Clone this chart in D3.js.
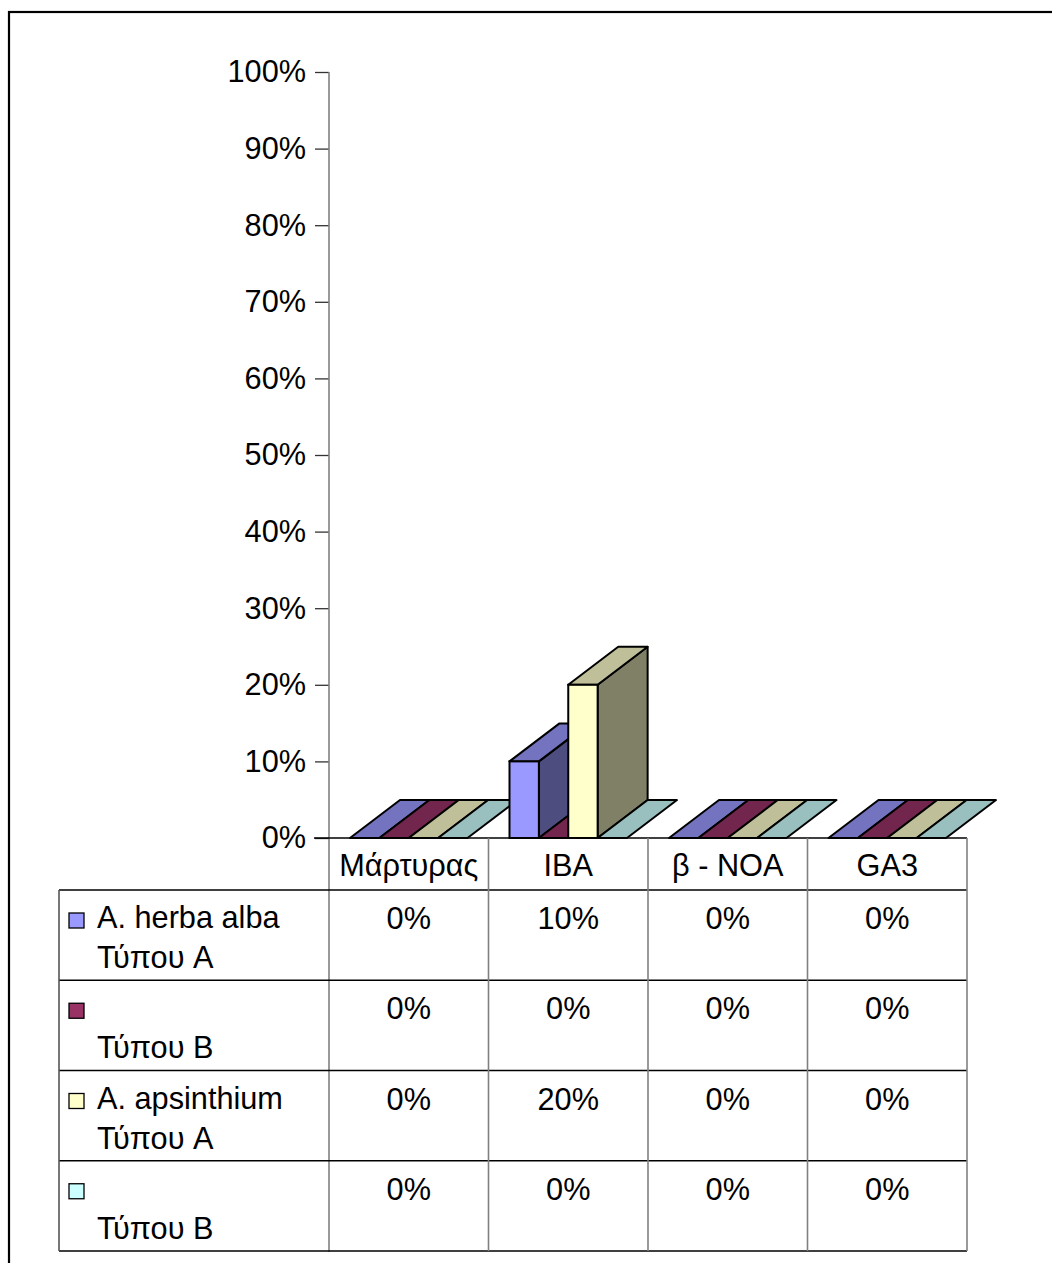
<!DOCTYPE html>
<html>
<head>
<meta charset="utf-8">
<script src="https://cdn.jsdelivr.net/npm/d3@7"></script>
<style>
html,body{margin:0;padding:0;background:#fff;}
svg{display:block;font-family:"Liberation Sans",Arial,sans-serif;}
</style>
</head>
<body>
<svg id="chart" width="1052" height="1263"></svg>
<script>
const categories = ["Μάρτυρας", "IBA", "β - NOA", "GA3"];
const seriesLine1 = ["A. herba alba", "", "A. apsinthium", ""];
const seriesLine2 = ["Τύπου A", "Τύπου B", "Τύπου A", "Τύπου B"];
const herbaAlbaA = [0, 0.10, 0, 0];
const herbaAlbaB = [0, 0, 0, 0];
const apsinthiumA = [0, 0.20, 0, 0];
const apsinthiumB = [0, 0, 0, 0];
const seriesValues = [herbaAlbaA, herbaAlbaB, apsinthiumA, apsinthiumB];
const seriesColors = ["#9999FF", "#993366", "#FFFFCC", "#CCFFFF"];
const yTicks = [0, 0.1, 0.2, 0.3, 0.4, 0.5, 0.6, 0.7, 0.8, 0.9, 1.0];

const FS = 30.7;
const svg = d3.select("#chart");
const fmt = d3.format(".0%");

// outer frame (extends beyond the visible area)
svg.append("rect").attr("x", 9).attr("y", 12).attr("width", 1200).attr("height", 1400)
  .attr("fill", "none").attr("stroke", "#000").attr("stroke-width", 2.2);

const x0 = d3.scaleBand().domain(categories).range([329, 967]);
const bw = x0.bandwidth();
const x1 = d3.scaleBand().domain(d3.range(seriesValues.length)).range([21, bw - 21]);
const y = d3.scaleLinear().domain([0, 1]).range([838, 72]);
const DX = 50, DY = -38;

// y axis
const yAxis = d3.axisLeft(y).tickValues(yTicks).tickFormat(fmt).tickSize(14).tickPadding(9);
const ga = svg.append("g").attr("transform", "translate(329,0)").call(yAxis);
ga.select(".domain").remove();
ga.attr("font-family", null).attr("font-size", null);
ga.selectAll(".tick line").attr("stroke", "#333").attr("stroke-width", 1.3);
ga.selectAll(".tick text").attr("font-size", FS).attr("fill", "#000");

// axis vertical line (continues as table column line)
svg.append("line").attr("x1", 329).attr("x2", 329).attr("y1", 72).attr("y2", 1252)
  .attr("stroke", "#808080").attr("stroke-width", 1.6);

function shade(c, k) {
  const r = d3.rgb(c);
  return d3.rgb(r.r * k, r.g * k, r.b * k).formatHex();
}

// bars
const bars = svg.append("g");
categories.forEach((cat, ci) => {
  seriesValues.forEach((vals, si) => {
    const v = vals[ci];
    const xl = x0(cat) + x1(si);
    const xr = xl + x1.bandwidth();
    const yb = y(0), yt = y(v);
    const col = seriesColors[si];
    const g = bars.append("g");
    if (v > 0) {
      g.append("path")
        .attr("d", d3.line()([[xr, yt], [xr + DX, yt + DY], [xr + DX, yb + DY], [xr, yb]]) + "Z")
        .attr("fill", shade(col, 0.5)).attr("stroke", "#000").attr("stroke-width", 2).attr("stroke-linejoin", "round");
    }
    g.append("path")
      .attr("d", d3.line()([[xl, yt], [xr, yt], [xr + DX, yt + DY], [xl + DX, yt + DY]]) + "Z")
      .attr("fill", shade(col, 0.75)).attr("stroke", "#000").attr("stroke-width", 2).attr("stroke-linejoin", "round");
    if (v > 0) {
      g.append("rect").attr("x", xl).attr("y", yt).attr("width", xr - xl).attr("height", yb - yt)
        .attr("fill", col).attr("stroke", "#000").attr("stroke-width", 2);
    }
  });
});

// data table
const rows = d3.scaleBand().domain(d3.range(seriesValues.length)).range([890, 1251]);
const tbl = svg.append("g");
tbl.append("line").attr("x1", 314).attr("x2", 967).attr("y1", 838).attr("y2", 838)
  .attr("stroke", "#000").attr("stroke-width", 1.6);
seriesValues.forEach((vals, si) => {
  tbl.append("line").attr("x1", 59).attr("x2", 967).attr("y1", rows(si)).attr("y2", rows(si))
    .attr("stroke", "#000").attr("stroke-width", 1.6);
});
tbl.append("line").attr("x1", 59).attr("x2", 967).attr("y1", 1251).attr("y2", 1251)
  .attr("stroke", "#000").attr("stroke-width", 1.6);
tbl.append("line").attr("x1", 59).attr("x2", 59).attr("y1", 890).attr("y2", 1251)
  .attr("stroke", "#555").attr("stroke-width", 1.6);
categories.forEach(cat => {
  const xr = x0(cat) + bw;
  tbl.append("line").attr("x1", xr).attr("x2", xr).attr("y1", 838).attr("y2", 1251)
    .attr("stroke", "#808080").attr("stroke-width", 1.6);
});
categories.forEach(cat => {
  tbl.append("text").attr("x", x0(cat) + bw / 2).attr("y", 876).attr("text-anchor", "middle")
    .attr("font-size", FS).text(cat);
});
seriesValues.forEach((vals, si) => {
  const top = rows(si);
  tbl.append("rect").attr("x", 69).attr("y", top + 23).attr("width", 15).attr("height", 15)
    .attr("fill", seriesColors[si]).attr("stroke", "#000").attr("stroke-width", 1.3);
  if (seriesLine1[si]) {
    tbl.append("text").attr("x", 97).attr("y", top + 38).attr("font-size", FS).text(seriesLine1[si]);
  }
  tbl.append("text").attr("x", 97).attr("y", top + 78).attr("font-size", FS).text(seriesLine2[si]);
  categories.forEach((cat, ci) => {
    tbl.append("text").attr("x", x0(cat) + bw / 2).attr("y", top + 39).attr("text-anchor", "middle")
      .attr("font-size", FS).text(fmt(vals[ci]));
  });
});
</script>
</body>
</html>
